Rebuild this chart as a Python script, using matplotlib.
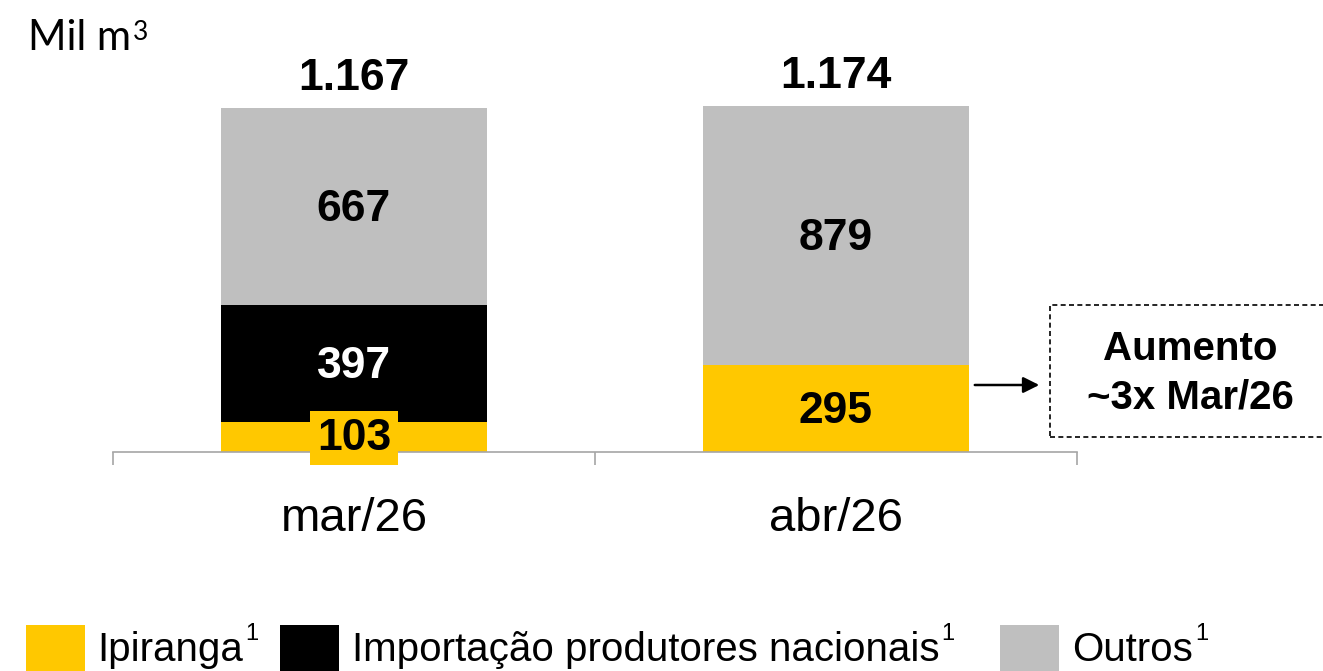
import matplotlib.pyplot as plt
from matplotlib.patches import Rectangle, FancyArrowPatch

# data
categories = ['mar/26', 'abr/26']
series_names = ['Ipiranga', 'Importação produtores nacionais', 'Outros']
ipiranga = [103, 295]
importacao = [397, 0]
outros = [667, 879]
colors = ['#FFC800', '#000000', '#BFBFBF']
unit_label = 'Mil m'
note_text = 'Aumento\n~3x Mar/26'

W, H = 1323, 671


def fx(px):
    return px / W


def fy(py):
    return 1 - py / H


def br(v):
    # brazilian thousands separator
    return '{:,}'.format(v).replace(',', '.')


fig = plt.figure(figsize=(W / 100, H / 100), dpi=100)
ymax = 1400
px_per_unit = 344 / 1167
ax_h = ymax * px_per_unit / H
ax = fig.add_axes([fx(113), fy(452), 964 / W, ax_h])
ax.set_xlim(-0.5, 1.5)
ax.set_ylim(0, ymax)

x = list(range(len(categories)))
series = [ipiranga, importacao, outros]
bottoms = [0] * len(categories)
for vals, col in zip(series, colors):
    ax.bar(x, vals, width=0.552, bottom=bottoms, color=col, zorder=2)
    for i, v in enumerate(vals):
        if v == 0:
            continue
        tc = 'white' if col == '#000000' else 'black'
        kw = {}
        dy = -2.5
        if v < 150:
            # label taller than the segment -> boxed
            kw['bbox'] = dict(boxstyle='square,pad=0.15', fc=col, ec='none')
            dy = -1
        ax.annotate(str(v), (x[i], bottoms[i] + v / 2), xytext=(0, dy),
                    textcoords='offset points', ha='center', va='center',
                    fontsize=32, fontweight='bold', color=tc,
                    family='Liberation Sans', zorder=4, **kw)
    bottoms = [b + v for b, v in zip(bottoms, vals)]

for i, t in enumerate(bottoms):
    ax.annotate(br(t), (x[i], t), xytext=(0, 21), textcoords='offset points',
                ha='center', va='center', fontsize=32, fontweight='bold',
                family='Liberation Sans', annotation_clip=False)

for s in ['top', 'right', 'left']:
    ax.spines[s].set_visible(False)
ax.spines['bottom'].set_color('#A6A6A6')
ax.spines['bottom'].set_linewidth(1.2)
ax.set_yticks([])
ax.set_xticks(x)
ax.set_xticklabels(categories, fontsize=34, family='Liberation Sans')
ax.tick_params(axis='x', which='major', length=0, pad=32.5)
ax.set_xticks([-0.5, 0.5, 1.5], minor=True)
ax.tick_params(axis='x', which='minor', length=9.4, width=1.2, color='#A6A6A6')

# unit label
fig.text(fx(28), fy(38), unit_label, fontsize=30, family='Lato', va='center')
fig.text(fx(133), fy(33), '3', fontsize=19, family='Lato', va='center')

# arrow + dashed note box
fig.add_artist(FancyArrowPatch((fx(972), fy(385)), (fx(1042), fy(385)),
                               transform=fig.transFigure, arrowstyle='-|>',
                               mutation_scale=24, lw=1.8, color='black'))
fig.add_artist(Rectangle((fx(1050), fy(437)), fx(300), (437 - 305) / H,
                         transform=fig.transFigure, fill=False, ec='black',
                         lw=1.2, ls=(0, (3, 2))))
fig.text(fx(1190), fy(373), note_text, ha='center', va='center', fontsize=29,
         fontweight='bold', family='Liberation Sans', linespacing=1.35)

# legend
sq_x = [26, 280, 1000]
txt_x = [97, 352, 1072]
for name, col, sx, tx in zip(series_names, colors, sq_x, txt_x):
    fig.add_artist(Rectangle((fx(sx), fy(684)), 59 / W, 59 / H,
                             transform=fig.transFigure, fc=col, ec='none'))
    t = fig.text(fx(tx), fy(650), name, fontsize=29,
                 family='Liberation Sans', va='center')
    fig.canvas.draw()
    bb = t.get_window_extent()
    fig.text(bb.x1 / W + fx(2), fy(634), '1', fontsize=17,
             family='Liberation Sans', va='center')

fig.savefig('out.png', dpi=100)
